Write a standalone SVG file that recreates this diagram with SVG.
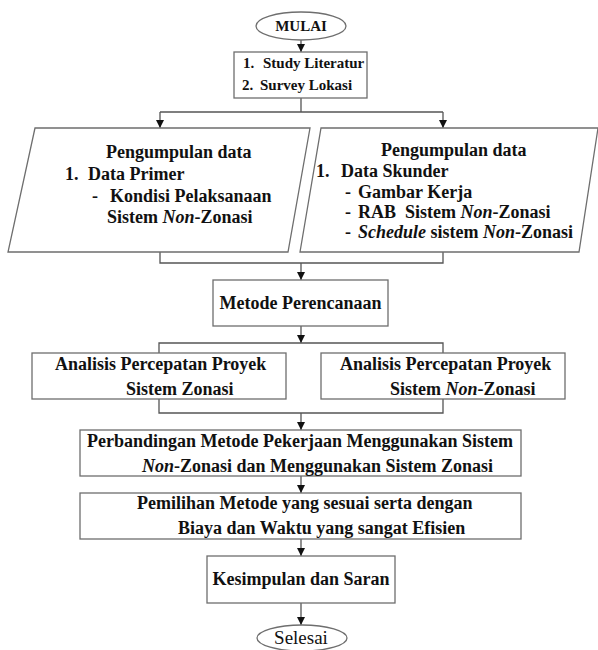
<svg xmlns="http://www.w3.org/2000/svg" width="598" height="650" viewBox="0 0 598 650" font-family="'Liberation Serif', 'DejaVu Serif', serif">
<style>
.b{fill:#fff;stroke:#6e6e6e;stroke-width:1.3}
.c{fill:none;stroke:#555;stroke-width:1.3}
text{font-family:'Liberation Serif','DejaVu Serif',serif;font-weight:bold;font-size:18px;fill:#111}
.s{font-size:15px}
.i{font-style:italic}
</style>
<defs>
<marker id="ah" viewBox="0 0 8 8" refX="8" refY="4" markerWidth="8" markerHeight="8" markerUnits="userSpaceOnUse" orient="auto">
<path d="M0,0 L8,4 L0,8 Z" fill="#111"/>
</marker>
</defs>
<rect width="598" height="650" fill="#fff"/>
<g id="connectors">
<path class="c" d="M301,40 V52" marker-end="url(#ah)"/>
<path class="c" d="M301,98 V112 M160,112 H443"/>
<path class="c" d="M160,112 V128" marker-end="url(#ah)"/>
<path class="c" d="M443,112 V128" marker-end="url(#ah)"/>
<path class="c" d="M160,252 V263 H443 V252"/>
<path class="c" d="M301,263 V280" marker-end="url(#ah)"/>
<path class="c" d="M301,326 V343" marker-end="url(#ah)"/>
<path class="c" d="M159,353 V343 H443 V353"/>
<path class="c" d="M159,399 V413 H443 V399"/>
<path class="c" d="M301,413 V430" marker-end="url(#ah)"/>
<path class="c" d="M301,476 V493" marker-end="url(#ah)"/>
<path class="c" d="M301,539 V556" marker-end="url(#ah)"/>
<path class="c" d="M301,603 V625" marker-end="url(#ah)"/>
</g>
<g id="mulai">
<ellipse class="b" cx="301" cy="26" rx="45" ry="14"/>
<text class="s" x="301" y="31" text-anchor="middle">MULAI</text>
</g>
<g id="studi">
<rect class="b" x="234" y="52" width="133" height="46"/>
<text class="s" x="243" y="68">1.</text>
<text class="s" x="263" y="68">Study Literatur</text>
<text class="s" x="242" y="90">2.</text>
<text class="s" x="260" y="90">Survey Lokasi</text>
</g>
<g id="data-primer">
<path class="b" d="M35,128 H310 L288,252 H8 Z"/>
<text x="106" y="158">Pengumpulan data</text>
<text x="65" y="180">1.</text>
<text x="88" y="180">Data Primer</text>
<text x="92" y="202">-</text>
<text x="110" y="202">Kondisi Pelaksanaan</text>
<text x="107" y="223">Sistem <tspan class="i">Non</tspan>-Zonasi</text>
</g>
<g id="data-sekunder">
<path class="b" d="M321,128 H598 L579,252 H300 Z"/>
<text x="381" y="156">Pengumpulan data</text>
<text x="316" y="177">1.</text>
<text x="341" y="177">Data Skunder</text>
<text x="345" y="198">-</text>
<text x="358" y="198">Gambar Kerja</text>
<text x="345" y="218">-</text>
<text x="358" y="218">RAB&#160; Sistem <tspan class="i">Non</tspan>-Zonasi</text>
<text x="345" y="238">-</text>
<text x="358" y="238"><tspan class="i">Schedule</tspan> sistem <tspan class="i">Non</tspan>-Zonasi</text>
</g>
<g id="metode">
<rect class="b" x="213" y="280" width="175" height="46"/>
<text x="300.5" y="309" text-anchor="middle">Metode Perencanaan</text>
</g>
<g id="analisis-zonasi">
<rect class="b" x="32" y="353" width="254" height="46"/>
<text x="55" y="370">Analisis Percepatan Proyek</text>
<text x="126" y="395">Sistem Zonasi</text>
</g>
<g id="analisis-non-zonasi">
<rect class="b" x="321" y="353" width="244" height="46"/>
<text x="340" y="370">Analisis Percepatan Proyek</text>
<text x="390" y="395">Sistem <tspan class="i">Non</tspan>-Zonasi</text>
</g>
<g id="perbandingan">
<rect class="b" x="80" y="430" width="441" height="46"/>
<text x="87" y="447">Perbandingan Metode Pekerjaan Menggunakan Sistem</text>
<text x="142" y="472"><tspan class="i">Non</tspan>-Zonasi dan Menggunakan Sistem Zonasi</text>
</g>
<g id="pemilihan">
<rect class="b" x="80" y="493" width="441" height="46"/>
<text x="137" y="509">Pemilihan Metode yang sesuai serta dengan</text>
<text x="178" y="534">Biaya dan Waktu yang sangat Efisien</text>
</g>
<g id="kesimpulan">
<rect class="b" x="207" y="556" width="188" height="47"/>
<text x="301" y="585" text-anchor="middle">Kesimpulan dan Saran</text>
</g>
<g id="selesai">
<ellipse class="b" cx="302" cy="638" rx="45" ry="13"/>
<text x="301" y="644" text-anchor="middle" style="font-weight:normal;font-size:19px">Selesai</text>
</g>
</svg>
